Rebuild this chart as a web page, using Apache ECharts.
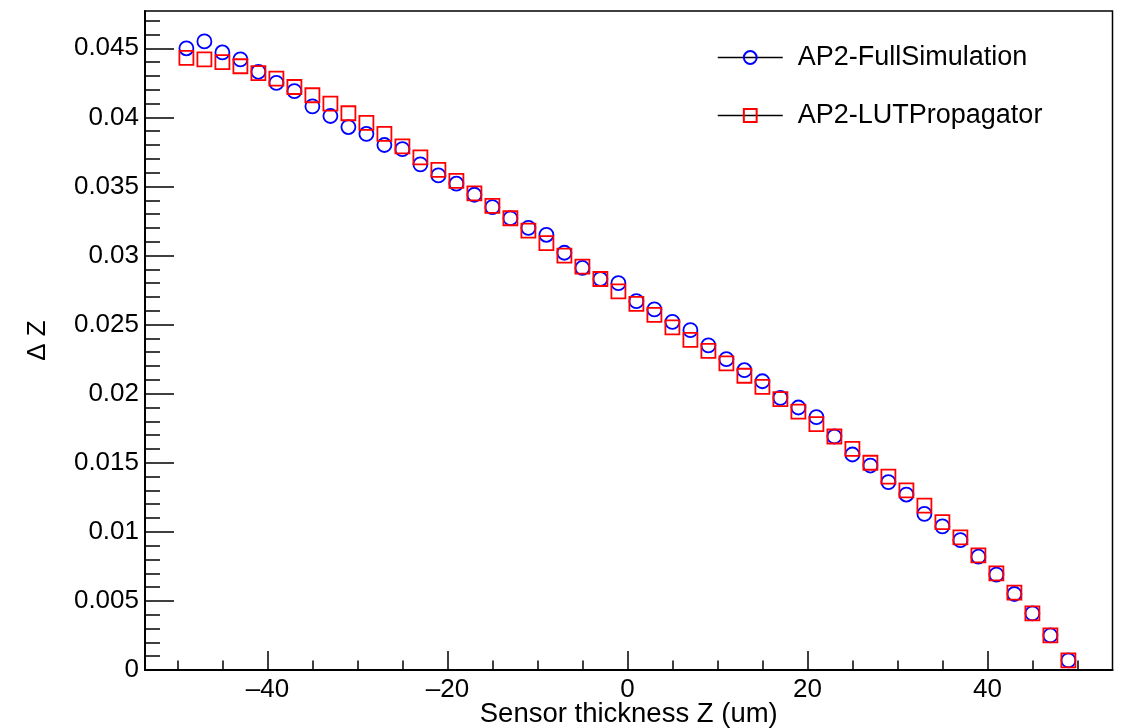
<!DOCTYPE html>
<html>
<head>
<meta charset="utf-8">
<script src="https://cdn.jsdelivr.net/npm/echarts@6/dist/echarts.min.js"></script>
<style>
html,body{margin:0;padding:0;background:#fff;}
#chart{width:1121px;height:728px;}
</style>
</head>
<body>
<div id="chart"></div>
<script>
// Sensor thickness Z (um)
const zValues = [-49,-47,-45,-43,-41,-39,-37,-35,-33,-31,-29,-27,-25,-23,-21,-19,-17,-15,-13,-11,-9,-7,-5,-3,-1,1,3,5,7,9,11,13,15,17,19,21,23,25,27,29,31,33,35,37,39,41,43,45,47,49];
const fullSimulation = [0.0450,0.0455,0.0447,0.0442,0.0433,0.0425,0.0419,0.0408,0.0401,0.0393,0.0388,0.0380,0.0377,0.0366,0.0358,0.0352,0.0344,0.0335,0.0327,0.0320,0.0315,0.0302,0.0291,0.0283,0.0280,0.0267,0.0261,0.0252,0.0246,0.0235,0.0225,0.0217,0.0209,0.0197,0.0190,0.0183,0.0169,0.0156,0.0148,0.0136,0.0127,0.0113,0.0104,0.0094,0.0082,0.0069,0.0055,0.0041,0.0025,0.0007];
const lutPropagator = [0.0443,0.0442,0.0440,0.0437,0.0432,0.0428,0.0422,0.0416,0.0410,0.0403,0.0396,0.0388,0.0379,0.0371,0.0362,0.0354,0.0345,0.0336,0.0327,0.0318,0.0309,0.0300,0.0292,0.0283,0.0274,0.0265,0.0257,0.0248,0.0239,0.0231,0.0222,0.0213,0.0205,0.0196,0.0187,0.0178,0.0169,0.0160,0.0150,0.0140,0.0130,0.0119,0.0107,0.0096,0.0083,0.0070,0.0056,0.0041,0.0025,0.0007];
const seriesNames = ['AP2-FullSimulation','AP2-LUTPropagator'];
const xMajorTicks = [-40,-20,0,20,40];
const xMinorTicks = [-50,-45,-35,-30,-25,-15,-10,-5,5,10,15,25,30,35,45,50];
const yMajorTicks = [0,0.005,0.01,0.015,0.02,0.025,0.03,0.035,0.04,0.045];
const yMinorTicks = [0.001,0.002,0.003,0.004,0.006,0.007,0.008,0.009,0.011,0.012,0.013,0.014,0.016,0.017,0.018,0.019,0.021,0.022,0.023,0.024,0.026,0.027,0.028,0.029,0.031,0.032,0.033,0.034,0.036,0.037,0.038,0.039,0.041,0.042,0.043,0.044,0.046,0.047];
const xTitle = 'Sensor thickness Z (um)';
const yTitle = '\u0394 Z';

const FONT = '"Liberation Sans", Arial, Helvetica, sans-serif';
const X_MIN = -53.6, X_MAX = 53.9, Y_MIN = 0, Y_MAX = 0.0477;

function pairs(ys){ return zValues.map((z,i)=>[z, ys[i]]); }

const chart = echarts.init(document.getElementById('chart'), null, {renderer:'canvas'});
const option = {
  animation: false,
  backgroundColor: '#fff',
  grid: {left:145, right:8.5, top:11, bottom:58, containLabel:false, outerBoundsMode:'none',
         show:true, borderColor:'#000', borderWidth:1.5, backgroundColor:'transparent'},
  legend: {
    left: 717, top: 44, orient: 'vertical', padding: 0,
    itemWidth: 65, itemHeight: 16, itemGap: 31,
    lineStyle: {color:'#000', width:1.5, opacity:1, type:'solid'},
    textStyle: {fontFamily: FONT, fontSize: 27, color:'#000', padding:[0,0,0,10]},
    data: seriesNames
  },
  xAxis: [
    {type:'value', min:X_MIN, max:X_MAX, position:'bottom',
     name: xTitle, nameLocation:'middle', nameGap: 30, nameMoveOverlap: false,
     nameTextStyle:{fontFamily:FONT, fontSize:27.5, color:'#000'},
     axisLine:{show:true, onZero:false, lineStyle:{color:'#000', width:2}},
     axisTick:{show:true, inside:true, length:19, customValues:xMajorTicks, lineStyle:{color:'#000', width:1.5}},
     axisLabel:{show:true, customValues:xMajorTicks, margin:7, fontFamily:FONT, fontSize:26, color:'#000',
       formatter:(v)=> (v<0 ? '\u2013' + Math.abs(v) : String(v))},
     splitLine:{show:false}},
    {type:'value', min:X_MIN, max:X_MAX, position:'bottom',
     axisLine:{show:false, onZero:false},
     axisTick:{show:true, inside:true, length:9.5, customValues:xMinorTicks, lineStyle:{color:'#000', width:1.5}},
     axisLabel:{show:false}, splitLine:{show:false}}
  ],
  yAxis: [
    {type:'value', min:Y_MIN, max:Y_MAX, position:'left',
     name: yTitle, nameLocation:'middle', nameGap: 94, nameRotate: 90, nameMoveOverlap: false,
     nameTextStyle:{fontFamily:FONT, fontSize:26, color:'#000'},
     axisLine:{show:true, onZero:false, lineStyle:{color:'#000', width:2}},
     axisTick:{show:true, inside:true, length:29, customValues:yMajorTicks, lineStyle:{color:'#000', width:1.5}},
     axisLabel:{show:true, customValues:yMajorTicks, margin:6, fontFamily:FONT, fontSize:26, color:'#000',
       formatter:(v)=> String(+(+v).toFixed(4))},
     splitLine:{show:false}},
    {type:'value', min:Y_MIN, max:Y_MAX, position:'left',
     axisLine:{show:false, onZero:false},
     axisTick:{show:true, inside:true, length:15, customValues:yMinorTicks, lineStyle:{color:'#000', width:1.5}},
     axisLabel:{show:false}, splitLine:{show:false}}
  ],
  series: [
    {name: seriesNames[0], type:'line', xAxisIndex:0, yAxisIndex:0, data: pairs(fullSimulation),
     symbol:'circle', symbolSize:14, showSymbol:true, showAllSymbol:true,
     lineStyle:{width:0, opacity:0},
     itemStyle:{color:'rgba(0,0,0,0)', borderColor:'#0000ff', borderWidth:1.8},
     emphasis:{disabled:true}, z:3},
    {name: seriesNames[1], type:'line', xAxisIndex:0, yAxisIndex:0, data: pairs(lutPropagator),
     symbol:'rect', symbolSize:14, showSymbol:true, showAllSymbol:true,
     lineStyle:{width:0, opacity:0},
     itemStyle:{color:'rgba(0,0,0,0)', borderColor:'#ff0000', borderWidth:1.8},
     emphasis:{disabled:true}, z:4}
  ]
};
chart.setOption(option);
</script>
</body>
</html>
